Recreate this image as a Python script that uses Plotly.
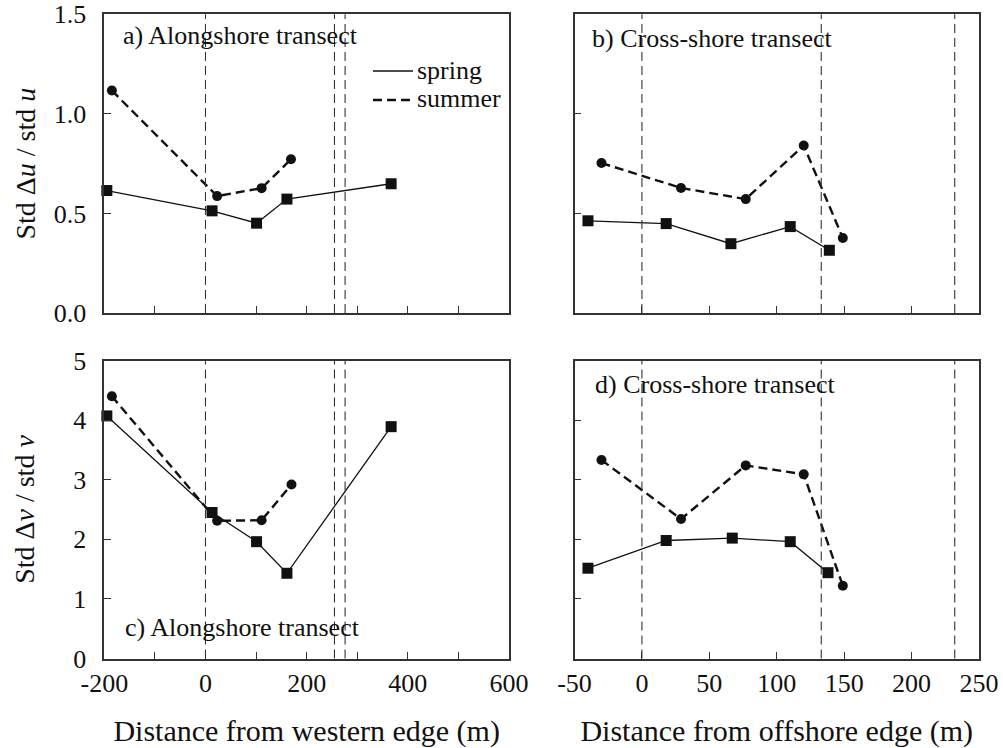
import plotly.graph_objects as go

# ---- data ----
a_spring_x = [-195, 13, 101, 161, 367]
a_spring_y = [0.615, 0.513, 0.451, 0.572, 0.649]
a_summer_x = [-185, 23, 111, 169]
a_summer_y = [1.117, 0.587, 0.627, 0.772]

b_spring_x = [-40, 18, 66, 110, 139]
b_spring_y = [0.463, 0.449, 0.348, 0.434, 0.315]
b_summer_x = [-30, 29, 77, 120, 149]
b_summer_y = [0.753, 0.628, 0.572, 0.841, 0.377]

c_spring_x = [-195, 13, 101, 161, 367]
c_spring_y = [4.07, 2.45, 1.96, 1.43, 3.89]
c_summer_x = [-185, 23, 111, 170]
c_summer_y = [4.40, 2.31, 2.32, 2.92]

d_spring_x = [-40, 18, 67, 110, 138]
d_spring_y = [1.515, 1.98, 2.02, 1.96, 1.44]
d_summer_x = [-30, 29, 77, 120, 149]
d_summer_y = [3.33, 2.34, 3.24, 3.09, 1.22]

along_lines = [0, 255, 276]
cross_lines = [0, 133, 232]

along_ticks = [-200, -100, 0, 100, 200, 300, 400, 500, 600]
along_labels = ["-200", "", "0", "", "200", "", "400", "", "600"]
cross_ticks = [-50, 0, 50, 100, 150, 200, 250]
cross_labels = ["-50", "0", "50", "100", "150", "200", "250"]
u_ticks = [0.0, 0.5, 1.0, 1.5]
u_labels = ["0.0", "0.5", "1.0", "1.5"]
v_ticks = [0, 1, 2, 3, 4, 5]
v_labels = ["0", "1", "2", "3", "4", "5"]

series_names = ["spring", "summer"]

FONT = "Liberation Serif"
BLACK = "#111111"
SUMMER_DASH = "9px,5px"

fig = go.Figure()

panels = [
    ("x", "y", a_spring_x, a_spring_y, a_summer_x, a_summer_y),
    ("x2", "y2", b_spring_x, b_spring_y, b_summer_x, b_summer_y),
    ("x3", "y3", c_spring_x, c_spring_y, c_summer_x, c_summer_y),
    ("x4", "y4", d_spring_x, d_spring_y, d_summer_x, d_summer_y),
]
for xa, ya, sx, sy, wx, wy in panels:
    fig.add_trace(go.Scatter(x=wx, y=wy, xaxis=xa, yaxis=ya, mode="lines+markers",
                             name=series_names[1],
                             line=dict(color=BLACK, width=2.4, dash=SUMMER_DASH),
                             marker=dict(symbol="circle", size=10, color=BLACK),
                             showlegend=False, cliponaxis=False))
    fig.add_trace(go.Scatter(x=sx, y=sy, xaxis=xa, yaxis=ya, mode="lines+markers",
                             name=series_names[0],
                             line=dict(color=BLACK, width=1.3),
                             marker=dict(symbol="square", size=11, color=BLACK),
                             showlegend=False, cliponaxis=False))

W, H = 1003, 748

shapes = []
for xref, yref, xs in [("x", "y", along_lines), ("x2", "y2", cross_lines),
                       ("x3", "y3", along_lines), ("x4", "y4", cross_lines)]:
    for xv in xs:
        shapes.append(dict(type="line", xref=xref, yref=yref + " domain",
                           x0=xv, x1=xv, y0=0, y1=1,
                           line=dict(color="#333333", width=1.1, dash=SUMMER_DASH)))

# legend (drawn manually inside panel a)
leg_rows = [(70, dict(color=BLACK, width=1.3)),
            (99, dict(color=BLACK, width=2.4, dash=SUMMER_DASH))]
for (yy, ln) in leg_rows:
    shapes.append(dict(type="line", xref="paper", yref="paper",
                       x0=373 / W, x1=413 / W, y0=1 - (yy + 1) / H, y1=1 - (yy + 1) / H,
                       line=ln))
fig.update_layout(shapes=shapes)

ax_common = dict(showline=True, linecolor="#333333", linewidth=1.5, mirror=True,
                 ticks="inside", ticklen=7, tickcolor="#333333", tickwidth=1.3,
                 showgrid=False, zeroline=False, automargin=False,
                 tickfont=dict(family=FONT, size=26, color=BLACK))

xa_dom = [104.3 / W, 509 / W]
xb_dom = [574.5 / W, 979 / W]
ytop_dom = [1 - 313 / H, 1 - 14.3 / H]
ybot_dom = [1 - 658.5 / H, 1 - 360.5 / H]

fig.update_layout(
    width=W, height=H,
    margin=dict(l=0, r=0, t=0, b=0),
    paper_bgcolor="white", plot_bgcolor="white",
    font=dict(family=FONT, size=26, color=BLACK),
    showlegend=False,
    xaxis=dict(domain=xa_dom, range=[-200, 600], anchor="y",
               tickvals=along_ticks, ticktext=[""] * len(along_ticks), **ax_common),
    yaxis=dict(domain=ytop_dom, range=[0, 1.5], anchor="x",
               tickvals=u_ticks, ticktext=u_labels, ticklabelstandoff=11,
               title=dict(text="Std Δ<i>u</i> / std <i>u</i>", standoff=10,
                          font=dict(family=FONT, size=28)), **ax_common),
    xaxis2=dict(domain=xb_dom, range=[-50, 250], anchor="y2",
                tickvals=cross_ticks, ticktext=[""] * len(cross_ticks), **ax_common),
    yaxis2=dict(domain=ytop_dom, range=[0, 1.5], anchor="x2",
                tickvals=u_ticks, ticktext=[""] * len(u_ticks), **ax_common),
    xaxis3=dict(domain=xa_dom, range=[-200, 600], anchor="y3",
                tickvals=along_ticks, ticktext=along_labels, ticklabelstandoff=1,
                title=dict(text="Distance from western edge (m)", standoff=24,
                           font=dict(family=FONT, size=30)), **ax_common),
    yaxis3=dict(domain=ybot_dom, range=[0, 5], anchor="x3",
                tickvals=v_ticks, ticktext=v_labels, ticklabelstandoff=11,
                title=dict(text="Std Δ<i>v</i> / std <i>v</i>", standoff=31,
                           font=dict(family=FONT, size=28)), **ax_common),
    xaxis4=dict(domain=xb_dom, range=[-50, 250], anchor="y4",
                tickvals=cross_ticks, ticktext=cross_labels, ticklabelstandoff=1,
                title=dict(text="Distance from offshore edge (m)", standoff=24,
                           font=dict(family=FONT, size=30)), **ax_common),
    yaxis4=dict(domain=ybot_dom, range=[0, 5], anchor="x4",
                tickvals=v_ticks, ticktext=[""] * len(v_ticks), **ax_common),
)

ann = dict(showarrow=False, xanchor="left", yanchor="middle",
           font=dict(family=FONT, size=26, color=BLACK))
fig.add_annotation(text="a) Alongshore transect", xref="paper", yref="paper",
                   x=121 / W, y=1 - 36 / H, **ann)
fig.add_annotation(text="b) Cross-shore transect", xref="paper", yref="paper",
                   x=590 / W, y=1 - 39 / H, **ann)
fig.add_annotation(text="c) Alongshore transect", xref="paper", yref="paper",
                   x=123 / W, y=1 - 627 / H, **ann)
fig.add_annotation(text="d) Cross-shore transect", xref="paper", yref="paper",
                   x=593 / W, y=1 - 384 / H, **ann)
leg_ann = dict(showarrow=False, xanchor="left", yanchor="middle",
               font=dict(family=FONT, size=26, color=BLACK))
for name, (yy, _) in zip(series_names, leg_rows):
    fig.add_annotation(text=name, xref="paper", yref="paper",
                       x=415 / W, y=1 - yy / H, **leg_ann)

fig.write_html("out.html")
